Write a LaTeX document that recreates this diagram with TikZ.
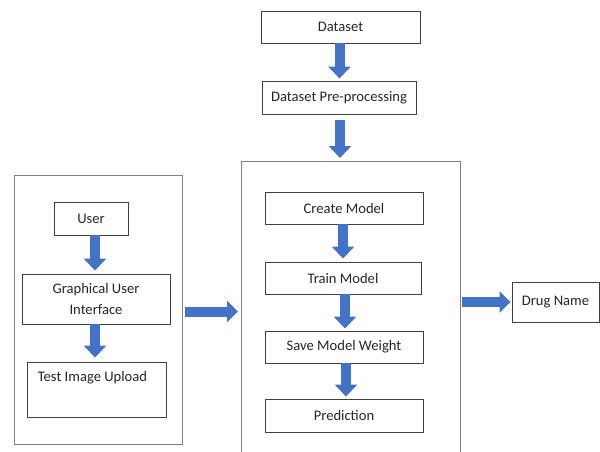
\documentclass[tikz,border=0pt]{standalone}
\usepackage{fontspec}
\setmainfont{Carlito}
\usetikzlibrary{arrows.meta}
\definecolor{arrblue}{HTML}{4472C4}
\definecolor{boxline}{HTML}{404040}
\definecolor{contline}{HTML}{808080}
\begin{document}
\begin{tikzpicture}[x=1pt,y=-1pt,
  box/.style={draw=boxline, line width=0.9pt, fill=white, inner sep=2pt,
    font=\fontsize{14.6}{17.5}\selectfont, text=black!85, align=center},
  cont/.style={draw=contline, line width=1pt},
  blockv/.style={arrblue, line width=10pt,
    -{Triangle[width=22pt,length=12pt]}},
  blockh/.style={arrblue, line width=10pt,
    -{Triangle[width=21pt,length=11pt]}}
]
\useasboundingbox (0,0) rectangle (600,452);
% top chain
\node[box, minimum width=159, minimum height=32] (ds) at (340.5,27) {Dataset};
\node[box, minimum width=154, minimum height=33] (pre) at (339,97.5) {Dataset Pre-processing};
% middle container (open at the bottom)
\node[minimum width=219, minimum height=300, anchor=north west, inner sep=0] (mid) at (241,161) {};
\draw[cont] (mid.south west) -- (mid.north west) -- (mid.north east) -- (mid.south east);
\node[box, minimum width=158, minimum height=32] (create) at (344,208) {Create Model};
\node[box, minimum width=156, minimum height=32] (train) at (343,278) {Train Model};
\node[box, minimum width=158, minimum height=32] (save) at (344,347) {Save Model Weight};
\node[box, minimum width=158, minimum height=33] (pred) at (344,415.5) {Prediction};
% left container
\node[cont, minimum width=168, minimum height=269, anchor=north west, inner sep=0] (left) at (14,175) {};
\node[box, minimum width=74, minimum height=33] (user) at (91,218.5) {User};
\node[box, minimum width=148, minimum height=50, font=\fontsize{14.6}{20.5}\selectfont] (gui) at (96,299) {Graphical User\\Interface};
\node[box, minimum width=139, minimum height=55,
  label={[anchor=north, yshift=-6, xshift=-4, font=\fontsize{14.6}{17.5}\selectfont, text=black!85]north:Test Image Upload}] (test) at (96.5,389.5) {};
% output
\node[box, minimum width=87, minimum height=40] (drug) at (555.5,302) {Drug Name};
% vertical arrows
\draw[blockv, shorten >=2pt] ([xshift=-1]ds.south) -- ([xshift=-1]ds.south |- pre.north);
\draw[blockv, shorten <=6pt, shorten >=3pt] ([xshift=1]pre.south) -- ([xshift=1]pre.south |- mid.north);
\draw[blockv, shorten >=3pt] ([xshift=-1]create.south) -- ([xshift=-1]create.south |- train.north);
\draw[blockv, shorten >=2pt] ([xshift=2]train.south) -- ([xshift=2]train.south |- save.north);
\draw[blockv, shorten >=2pt] ([xshift=2]save.south) -- ([xshift=2]save.south |- pred.north);
\draw[blockv, shorten >=3pt] ([xshift=4]user.south) -- ([xshift=4]user.south |- gui.north);
\draw[blockv, shorten >=4pt] ([xshift=-1]gui.south) -- ([xshift=-1]gui.south |- test.north);
% horizontal arrows
\draw[blockh, shorten <=2pt, shorten >=3pt] ([yshift=-1.5]left.east) -- ([yshift=-1.5]left.east -| mid.west);
\draw[blockh, shorten <=2pt, shorten >=1pt] (mid.west |- drug.west) ++(219,0) coordinate (mo) (mo) -- (drug.west);
\end{tikzpicture}
\end{document}
